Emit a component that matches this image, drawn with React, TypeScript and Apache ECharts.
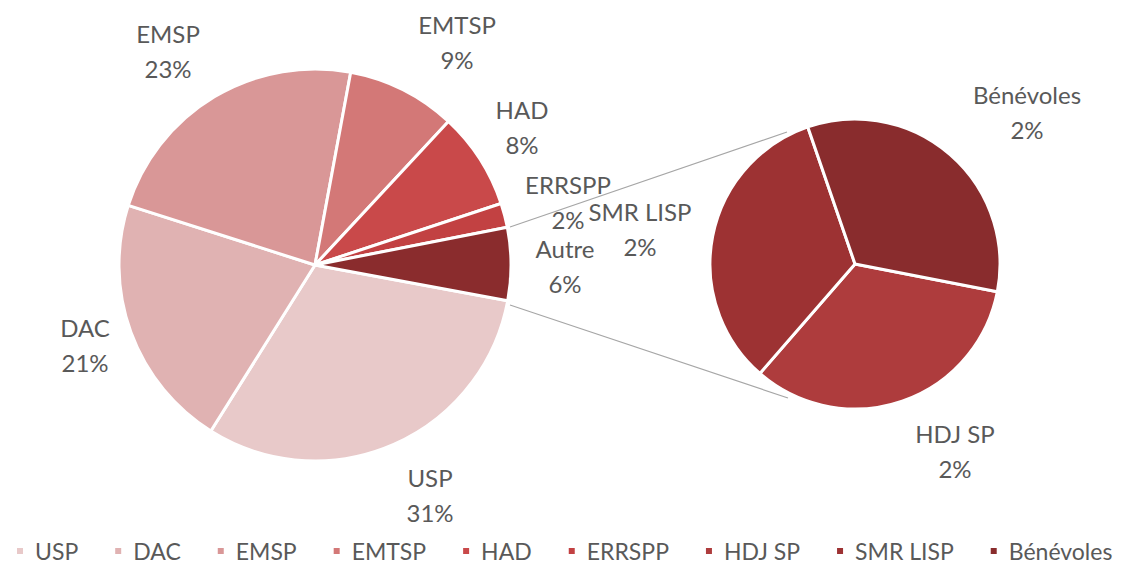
import React, { useEffect, useRef } from "react";
import * as echarts from "echarts";

const mainNames = ["USP", "DAC", "EMSP", "EMTSP", "HAD", "ERRSPP", "Autre"];
const mainValues = [31, 21, 23, 9, 8, 2, 6];
const mainColors = ["#E8C9C9", "#E0B2B2", "#D99797", "#D37877", "#C9494A", "#C24142", "#8A2C2D"];

const subNames = ["HDJ SP", "SMR LISP", "Bénévoles"];
const subValues = [2, 2, 2];
const subColors = ["#AE3C3D", "#9D3233", "#892C2D"];

const legendNames = ["USP", "DAC", "EMSP", "EMTSP", "HAD", "ERRSPP", "HDJ SP", "SMR LISP", "Bénévoles"];

// label anchor positions (text-block centres)
const mainLabelPos: [number, number][] = [
  [430, 495], [85, 345], [168, 51], [457, 42], [522, 127], [568, 202], [565, 266],
];
const subLabelPos: [number, number][] = [[955, 451], [640, 229], [1027, 112]];

const FONT = "Lato, 'Open Sans', sans-serif";
const TXT = "#595959";

export default function App() {
  const ref = useRef<HTMLDivElement>(null);
  useEffect(() => {
    document.body.style.margin = "0";
    const chart = echarts.init(ref.current!, null, { renderer: "svg" });
    const labelStyle = {
      show: true,
      position: "outside",
      formatter: "{b}\n{c}%",
      color: TXT,
      fontSize: 24,
      lineHeight: 35,
      fontFamily: FONT,
      align: "center",
    };
    chart.setOption({
      animation: false,
      backgroundColor: "#ffffff",
      legend: {
        data: legendNames,
        left: 10,
        top: 534,
        padding: 5,
        itemWidth: 8,
        itemHeight: 8,
        itemGap: 35,
        icon: "rect",
        textStyle: { color: TXT, fontSize: 23, lineHeight: 24, fontFamily: FONT, padding: [0, 0, 0, 6] },
      },
      graphic: [
        { type: "line", shape: { x1: 510, y1: 227, x2: 787, y2: 132 }, style: { stroke: "#A6A6A6", lineWidth: 1.2 } },
        { type: "line", shape: { x1: 510, y1: 305, x2: 788, y2: 398 }, style: { stroke: "#A6A6A6", lineWidth: 1.2 } },
      ],
      series: [
        {
          type: "pie",
          center: [315, 265],
          radius: 196,
          startAngle: 349.5,
          clockwise: true,
          data: mainNames.map((n, i) => ({ name: n, value: mainValues[i], itemStyle: { color: mainColors[i] } })),
          itemStyle: { borderColor: "#ffffff", borderWidth: 3 },
          label: labelStyle,
          labelLine: { show: false },
          labelLayout: (p: any) => ({
            x: mainLabelPos[p.dataIndex][0],
            y: mainLabelPos[p.dataIndex][1],
            align: "center",
            verticalAlign: "middle",
          }),
          emphasis: { disabled: true },
        },
        {
          type: "pie",
          center: [855, 264],
          radius: 145,
          startAngle: 349,
          clockwise: true,
          data: subNames.map((n, i) => ({ name: n, value: subValues[i], itemStyle: { color: subColors[i] } })),
          itemStyle: { borderColor: "#ffffff", borderWidth: 3 },
          label: labelStyle,
          labelLine: { show: false },
          labelLayout: (p: any) => ({
            x: subLabelPos[p.dataIndex][0],
            y: subLabelPos[p.dataIndex][1],
            align: "center",
            verticalAlign: "middle",
          }),
          emphasis: { disabled: true },
        },
      ],
    });
    return () => chart.dispose();
  }, []);
  return <div ref={ref} style={{ width: 1126, height: 565 }} />;
}
